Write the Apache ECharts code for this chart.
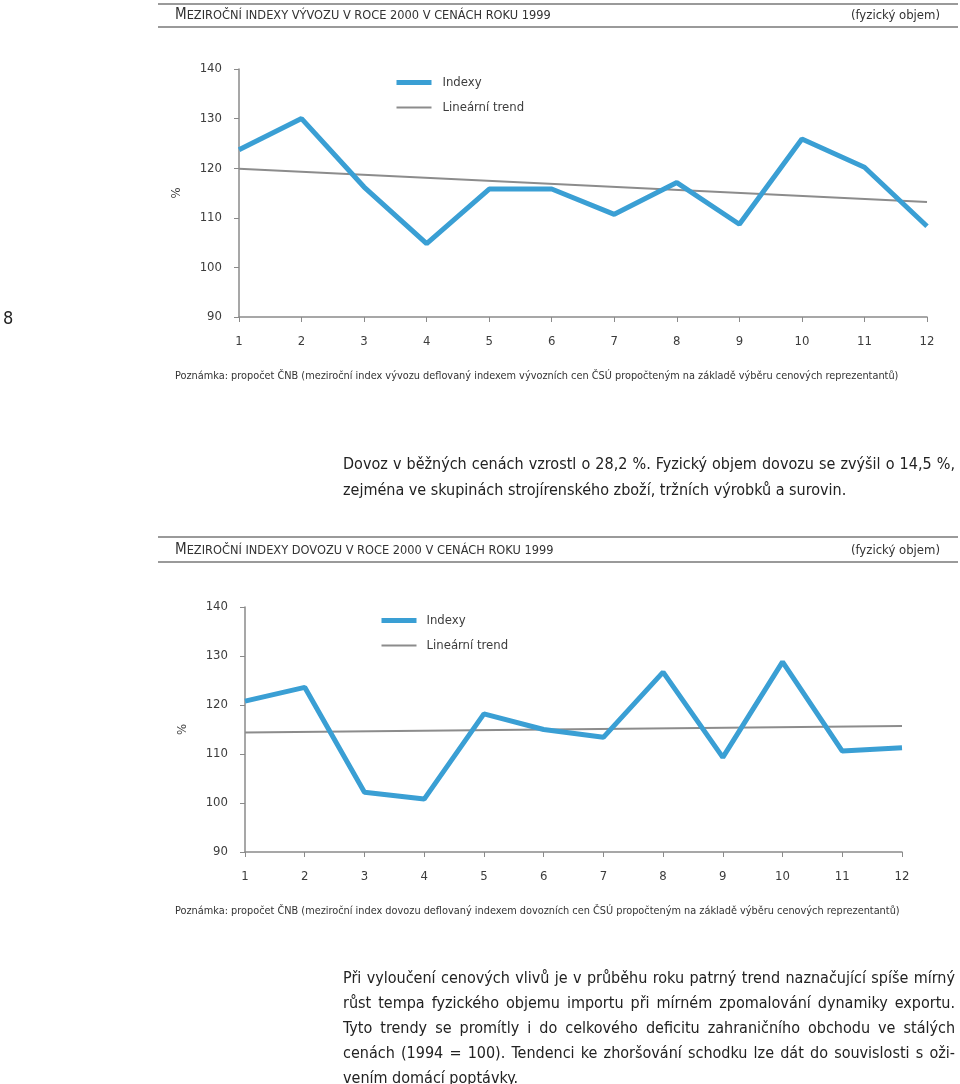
<!DOCTYPE html>
<html><head><meta charset="utf-8">
<script src="https://cdn.jsdelivr.net/npm/echarts@6/dist/echarts.min.js"></script>
<style>html,body{margin:0;padding:0;background:#fff}#c{width:960px;height:1084px}</style>
</head><body><div id="c"></div>
<script>
const months = ['1','2','3','4','5','6','7','8','9','10','11','12'];
const exportIdx = [123.7, 130.0, 116.2, 104.8, 115.8, 115.8, 110.7, 117.1, 108.7, 125.9, 120.2, 108.3];
const exportTrend = [119.9, 113.2]; // values at month 1 and month 12
const importIdx = [120.8, 123.6, 102.2, 100.8, 118.2, 115.0, 113.4, 126.7, 109.3, 128.8, 110.6, 111.3];
const importTrend = [114.4, 115.7];
const yTicks = [90, 100, 110, 120, 130, 140];

const title1Cap = 'M', title1Rest = 'EZIROČNÍ INDEXY VÝVOZU V ROCE 2000 V CENÁCH ROKU 1999';
const title2Cap = 'M', title2Rest = 'EZIROČNÍ INDEXY DOVOZU V ROCE 2000 V CENÁCH ROKU 1999';
const unitNote = '(fyzický objem)';
const note1 = 'Poznámka: propočet ČNB (meziroční index vývozu deflovaný indexem vývozních cen ČSÚ propočteným na základě výběru cenových reprezentantů)';
const note2 = 'Poznámka: propočet ČNB (meziroční index dovozu deflovaný indexem dovozních cen ČSÚ propočteným na základě výběru cenových reprezentantů)';
const para1 = ['Dovoz v běžných cenách vzrostl o 28,2 %. Fyzický objem dovozu se zvýšil o 14,5 %,',
  'zejména ve skupinách strojírenského zboží, tržních výrobků a surovin.'];
const para2 = ['Při vyloučení cenových vlivů je v průběhu roku patrný trend naznačující spíše mírný',
  'růst tempa fyzického objemu importu při mírném zpomalování dynamiky exportu.',
  'Tyto trendy se promítly i do celkového deficitu zahraničního obchodu ve stálých',
  'cenách (1994 = 100). Tendenci ke zhoršování schodku lze dát do souvislosti s oži-',
  'vením domácí poptávky.'];
const legendNames = ['Indexy', 'Lineární trend'];

const FONT = "'DejaVu Sans Condensed','Liberation Sans Narrow','Open Sans',sans-serif";
const BLUE = '#3a9fd4', GREY = '#8c8c8c', TXT = '#3c3c3c', AX = '#8a8a8a';

function trendData(t){ const a = months.map(()=>null); a[0]=t[0]; a[a.length-1]=t[1]; return a; }

const mctx = document.createElement('canvas').getContext('2d');
function justified(lines, x0, width, y0, lh, size){
  const els = [];
  mctx.font = size + 'px ' + FONT;
  lines.forEach((ln, i) => {
    const y = y0 + i*lh;
    const last = i === lines.length-1;
    if (last) { els.push({type:'text', left:x0, top:y-size*0.6, style:{text:ln, font:size+'px '+FONT, fill:'#222'}}); return; }
    const words = ln.split(' ');
    const wsum = words.reduce((s,w)=>s+mctx.measureText(w).width,0);
    const gap = (width - wsum)/(words.length-1);
    let x = x0;
    words.forEach(w => {
      els.push({type:'text', left:x, top:y-size*0.6, style:{text:w, font:size+'px '+FONT, fill:'#222'}});
      x += mctx.measureText(w).width + gap;
    });
  });
  return els;
}

function rule(y){ return {type:'line', shape:{x1:158,y1:y,x2:958,y2:y}, style:{stroke:'#9a9a9a', lineWidth:2}}; }
function titleText(cap, rest, y){
  return {type:'text', left:175, top:y-9, style:{
    rich:{a:{fontSize:15, fontFamily:FONT, fill:'#333'}, b:{fontSize:12.7, fontFamily:FONT, fill:'#333'}},
    text:'{a|'+cap+'}{b|'+rest+'}'}};
}

const grids = [
  {left:239, top:69, width:688, height:248},
  {left:245, top:607, width:657, height:245}
];
function xAx(i){ return {type:'category', gridIndex:i, data:months, boundaryGap:false,
  axisLine:{lineStyle:{color:AX, width:1.5}}, axisTick:{alignWithLabel:true, length:5, lineStyle:{color:AX}},
  axisLabel:{color:TXT, fontSize:13, fontFamily:FONT, margin:18}}; }
function yAx(i){ return {type:'value', gridIndex:i, min:yTicks[0], max:yTicks[yTicks.length-1], interval:10,
  name:'%', nameLocation:'middle', nameGap:56, nameRotate:90, nameTextStyle:{color:TXT, fontSize:13, fontFamily:FONT},
  axisLine:{show:true, lineStyle:{color:AX, width:1.5}}, axisTick:{show:true, length:5, lineStyle:{color:AX}},
  splitLine:{show:false}, axisLabel:{color:TXT, fontSize:13, fontFamily:FONT, margin:17}}; }
function legendData(){ return [
  {name:legendNames[0], lineStyle:{width:5, color:BLUE}},
  {name:legendNames[1], lineStyle:{width:2, color:GREY}}]; }

const option = {
  animation:false,
  backgroundColor:'#fff',
  grid: grids,
  xAxis:[xAx(0), xAx(1)],
  yAxis:[yAx(0), yAx(1)],
  legend:[
    {left:389, top:71, orient:'vertical', itemWidth:35, itemHeight:14, itemGap:12, data:legendData(),
     itemStyle:{opacity:0}, textStyle:{color:TXT, fontSize:13, fontFamily:FONT, padding:[0,0,0,6]}, selectedMode:false},
    {left:374, top:609, orient:'vertical', itemWidth:35, itemHeight:14, itemGap:12, data:legendData(),
     itemStyle:{opacity:0}, textStyle:{color:TXT, fontSize:13, fontFamily:FONT, padding:[0,0,0,5]}, selectedMode:false}
  ],
  series:[
    {name:legendNames[0], type:'line', xAxisIndex:0, yAxisIndex:0, data:exportIdx, symbol:'none', lineStyle:{color:BLUE, width:5}, itemStyle:{color:BLUE}, z:3},
    {name:legendNames[1], type:'line', xAxisIndex:0, yAxisIndex:0, data:trendData(exportTrend), connectNulls:true, symbol:'none', lineStyle:{color:GREY, width:2}, itemStyle:{color:GREY}, z:2},
    {name:legendNames[0], type:'line', xAxisIndex:1, yAxisIndex:1, data:importIdx, symbol:'none', lineStyle:{color:BLUE, width:5}, itemStyle:{color:BLUE}, z:3},
    {name:legendNames[1], type:'line', xAxisIndex:1, yAxisIndex:1, data:trendData(importTrend), connectNulls:true, symbol:'none', lineStyle:{color:GREY, width:2}, itemStyle:{color:GREY}, z:2}
  ],
  graphic:[
    rule(4), rule(27), titleText(title1Cap, title1Rest, 17),
    {type:'text', right:20, top:9, style:{text:unitNote, font:'13px '+FONT, fill:'#333'}},
    rule(537), rule(562), titleText(title2Cap, title2Rest, 552),
    {type:'text', right:20, top:544, style:{text:unitNote, font:'13px '+FONT, fill:'#333'}},
    {type:'text', left:3, top:310, style:{text:'8', font:'18px '+FONT, fill:'#222'}},
    {type:'text', left:175, top:371, style:{text:note1, font:'10.85px '+FONT, fill:'#333'}},
    {type:'text', left:175, top:906, style:{text:note2, font:'10.85px '+FONT, fill:'#333'}},
    ...justified(para1, 343, 612, 466, 26, 16),
    ...justified(para2, 343, 612, 980, 25, 16)
  ]
};
const chart = echarts.init(document.getElementById('c'), null, {renderer:'canvas'});
chart.setOption(option);
</script></body></html>
